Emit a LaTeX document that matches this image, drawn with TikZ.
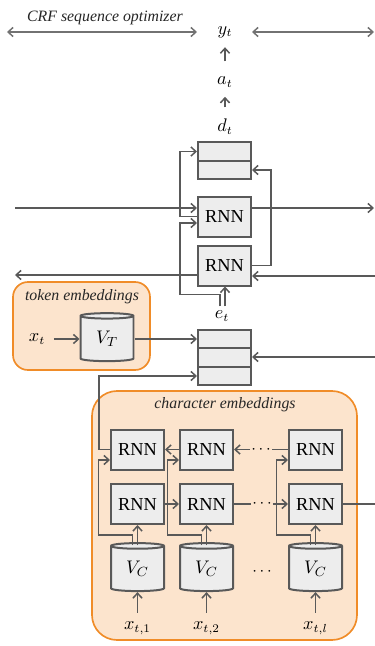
\documentclass[tikz,border=0pt]{standalone}
\usepackage{fontspec}
\setmainfont{Liberation Serif}
\usetikzlibrary{arrows.meta,calc,shapes.geometric}

\definecolor{linegray}{RGB}{89,89,89}
\definecolor{cellgray}{RGB}{237,237,237}
\definecolor{embfill}{RGB}{252,228,205}
\definecolor{embdraw}{RGB}{240,140,40}

\begin{document}
\begin{tikzpicture}[x=0.6pt, y=-0.6pt,
	conn/.style={draw=linegray, line width=0.9pt, -{Straight Barb[length=3pt,width=5.5pt]}},
	bothconn/.style={draw=linegray!85, line width=0.9pt, {Straight Barb[length=3pt,width=5.5pt]}-{Straight Barb[length=3pt,width=5.5pt]}},
	plain/.style={draw=linegray, line width=0.9pt},
	cell/.style={draw=linegray, fill=cellgray, line width=1.2pt, minimum width=31.8pt, minimum height=11.1pt, inner sep=0pt},
	rnnbox/.style={draw=linegray, fill=cellgray, line width=1.2pt, minimum width=31.8pt, minimum height=24pt, inner sep=0pt, font=\fontsize{11}{13}\selectfont},
	db/.style={cylinder, shape border rotate=90, aspect=0.25, draw=linegray, fill=cellgray, line width=1.2pt, minimum width=31.8pt, minimum height=28.8pt, inner sep=0pt, font=\fontsize{11}{13}\selectfont},
	embbox/.style={draw=embdraw, fill=embfill, line width=1pt},
	tag/.style={font=\fontsize{9.5}{11}\selectfont\itshape, text=black!85},
	var/.style={inner sep=0pt, font=\fontsize{10.5}{12}\selectfont},
	dots/.style={inner sep=0.5pt}
]
	\useasboundingbox (0,0) rectangle (375,646);

	% embedding areas
	\node[embbox, rounded corners=9pt, minimum width=82.2pt, minimum height=52.8pt] (tokbox) at (81.5,326) {};
	\node[embbox, rounded corners=15pt, minimum width=159pt, minimum height=149.4pt] (charbox) at (224.5,515.5) {};
	\node[tag] (toklabel) at (82,297) {token embeddings};
	\node[tag] (charlabel) at (225,405) {character embeddings};

	% CRF layer
	\node[tag] (crflabel) at (105,18) {CRF sequence optimizer};
	\node[var] (yt) at (225,32) {$y_t$};
	\node[var] (at) at (225,82) {$a_t$};
	\node[var] (dt) at (225,127) {$d_t$};
	\coordinate (crfL) at (7,32);
	\coordinate (crfML) at (197,32);
	\coordinate (crfMR) at (252,32);
	\coordinate (crfR) at (374,32);
	\draw[bothconn] (crfL) -- (crfML);
	\draw[bothconn] (crfMR) -- (crfR);
	\draw[conn, shorten <=9pt, shorten >=5.5pt] (at) -- (yt);
	\draw[conn, shorten <=7pt, shorten >=5.5pt] (dt) -- (at);

	% word level bi-RNN
	\node[cell] (cat1a) at (224.5,151.5) {};
	\node[cell] (cat1b) at (224.5,170) {};
	\node[rnnbox] (rnnf) at (224.5,216.5) {RNN};
	\node[rnnbox] (rnnb) at (224.5,265.5) {RNN};
	\node[var] (et) at (222,316) {$e_t$};

	\coordinate (fwdIn) at (15,208);
	\coordinate (fwdOut) at (374,208);
	\coordinate (bwdIn) at (375,276);
	\coordinate (bwdOut) at (15,275);
	\draw[conn] (fwdIn) -- (fwdIn -| rnnf.west);
	\draw[conn] (fwdOut -| rnnf.east) -- (fwdOut);
	\draw[conn] (bwdIn) -- (bwdIn -| rnnb.east);
	\draw[conn] (bwdOut -| rnnb.west) -- (bwdOut);
	\draw[conn] (rnnf.west) -- ++(-17,0) |- (cat1a.west);
	\draw[conn] (rnnb.east) -- ++(19,0) |- (cat1b.east);
	\draw[conn] ($(et.north)+(3,-4)$) -- ($(rnnb.south)+(0.5,0)$);
	\draw[conn] ($(et.north)+(-2,-4)$) -- ++(0,-12) -| ($(rnnf.west)+(-17,6.5)$) -- ($(rnnf.west)+(0,6.5)$);

	% token embedding
	\node[cell] (cat2a) at (224.5,339) {};
	\node[cell] (cat2b) at (224.5,357.5) {};
	\node[cell] (cat2c) at (224.5,376) {};
	\node[var] (xt) at (37,339) {$x_t$};
	\node[db] (vt) at (107,339) {$V_T$};
	\coordinate (catIn) at (375,357);
	\draw[conn, shorten <=5pt] (xt) -- (vt);
	\draw[conn] (vt) -- (cat2a);
	\draw[conn] (catIn) -- (catIn -| cat2b.east);

	% character level bi-RNN
	\foreach \cx/\i/\s in {137.5/1/1, 206.5/2/2, 315.5/3/l} {
		\node[rnnbox] (rb\i) at (\cx,449.5) {RNN};
		\node[rnnbox] (rf\i) at (\cx,504) {RNN};
		\node[db] (vc\i) at (\cx,569) {$V_C$};
		\node[var] (xc\i) at (\cx,628) {$x_{t,\s}$};
		\draw[conn, shorten <=5pt] (xc\i) -- (vc\i);
		\draw[conn] ($(vc\i.center)+(0,-24)$) -- (rf\i.south);
		\draw[conn] ($(vc\i.center)+(-5,-24)$) -- ++(0,-10) -| ($(rb\i.west)+(-11.5,10.5)$) -- ($(rb\i.west)+(0,10.5)$);
	}
	\node[dots] (dotsA) at (261,449.5) {$\cdots$};
	\node[dots] (dotsB) at (262,504) {$\cdots$};
	\node[dots] (dotsC) at (262,572) {$\cdots$};
	\coordinate (charOut) at (375,504);
	\draw[conn] (rb2) -- (rb1);
	\draw[plain] (rb3) -- (dotsA);
	\draw[conn] (dotsA) -- (rb2);
	\draw[conn] (rf1) -- (rf2);
	\draw[plain] (rf2) -- (dotsB);
	\draw[conn] (dotsB) -- (rf3);
	\draw[plain] (rf3) -- (charOut);
	\draw[conn] (rb1.west) -- ++(-11,0) |- (cat2c.west);
\end{tikzpicture}
\end{document}
